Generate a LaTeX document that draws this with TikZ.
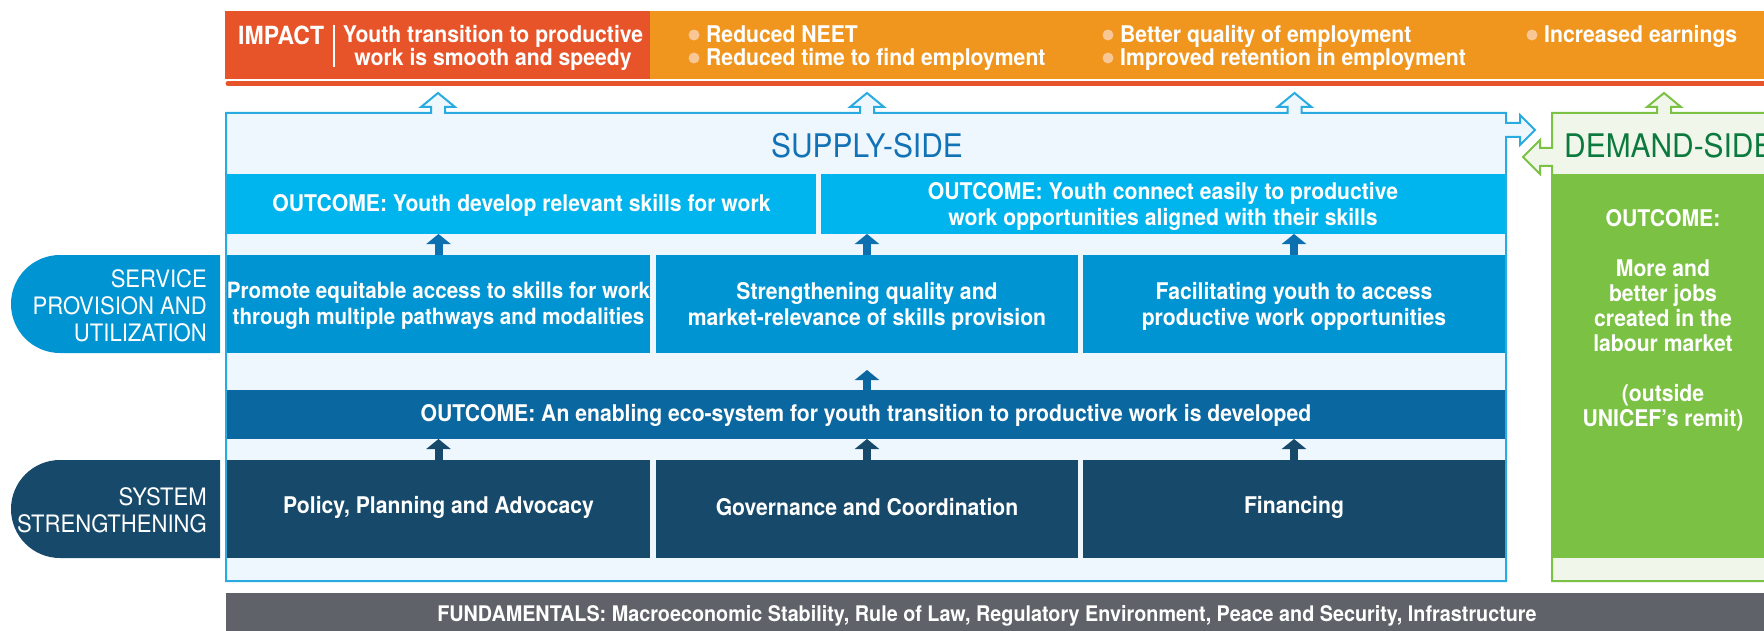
\documentclass[tikz,border=0pt]{standalone}
\usepackage{fontspec}
\setmainfont{TeX Gyre Heros}[FakeStretch=0.92]
\usetikzlibrary{arrows.meta,fit,shapes.misc}
\definecolor{impred}{HTML}{E8542A}
\definecolor{imporange}{HTML}{F0961F}
\definecolor{bulletc}{HTML}{F9C796}
\definecolor{supline}{HTML}{29ABE2}
\definecolor{supfill}{HTML}{EEF7FD}
\definecolor{suptext}{HTML}{1272B6}
\definecolor{outcyan}{HTML}{00B5EE}
\definecolor{servblue}{HTML}{0094D3}
\definecolor{arrblue}{HTML}{0C6FAF}
\definecolor{ecoblue}{HTML}{0B679F}
\definecolor{sysnavy}{HTML}{16496A}
\definecolor{demgreen}{HTML}{7BC143}
\definecolor{demfill}{HTML}{F0F6E9}
\definecolor{demtext}{HTML}{0C7A3E}
\definecolor{fundgray}{HTML}{5F6369}
\begin{document}
\begin{tikzpicture}[x=1pt,y=-1pt,
  area/.style={inner sep=0pt, outer sep=0pt},
  bx/.style={inner sep=0pt, outer sep=0pt, text=white, align=center, font=\bfseries\fontsize{23}{26}\selectfont},
  btxt/.style={inner sep=0pt, text=white, font=\bfseries\fontsize{23}{26}\selectfont},
  labtxt/.style={inner sep=0pt, text=white, align=right, font=\fontsize{24}{27}\selectfont},
  pill/.style={rounded rectangle, rounded rectangle right arc=none, minimum width=209pt, minimum height=98pt, inner sep=0pt},
  dot/.style={circle, fill=bulletc, minimum size=11pt, inner sep=0pt},
  uparr/.style={line width=8pt, -{Triangle[width=24pt,length=10pt]}},
  sidetitle/.style={inner sep=0pt, font=\fontsize{32.5}{36}\selectfont}
]
\useasboundingbox (0,0) rectangle (1764,631);
\clip (0,0) rectangle (1764,631);

% ---------- impact bar ----------
\node[area, fit={(225,11)(650,79)}, fill=impred] (impact) {};
\node[area, fit={(650,11)(1780,79)}, fill=imporange] (results) {};
\draw[impred, line width=5pt, line cap=round] (228,83.5) -- (1780,83.5);
\node[btxt, anchor=base west, font=\bfseries\fontsize{25}{26}\selectfont] (implabel) at (238,45) {IMPACT};
\draw[white, line width=1.2pt] (334,25) -- (334,67);
\node[bx, font=\bfseries\fontsize{23}{23}\selectfont] (impstmt) at (493,47.5) {Youth transition to productive\\work is smooth and speedy};
\foreach \bx/\by/\bt [count=\i] in {694/34/Reduced NEET, 694/57/Reduced time to find employment, 1108/34/Better quality of employment, 1108/57/Improved retention in employment, 1532/34/Increased earnings} {
  \node[dot] (dot\i) at (\bx,\by+1) {};
  \node[btxt, anchor=base west] (item\i) at (\bx+12,\by+9) {\bt};
}

% ---------- supply-side frame ----------
\draw[supline, line width=2pt, fill=supfill] (226,113)
  \foreach \ax in {438,867,1294.5} { -- (\ax-7,113) -- (\ax-7,107) -- (\ax-17,107) -- (\ax,93) -- (\ax+17,107) -- (\ax+7,107) -- (\ax+7,113) }
  -- (1506,113) -- (1506,123) -- (1520,123) -- (1520,115) -- (1535,130) -- (1520,145) -- (1520,137) -- (1506,137) -- (1506,581) -- (226,581) -- cycle;

% ---------- demand-side frame ----------
\draw[demgreen, line width=2pt, fill=demfill] (1790,113) -- (1671,113) -- (1671,107) -- (1681,107) -- (1664,93) -- (1647,107) -- (1657,107) -- (1657,113)
  -- (1552,113) -- (1552,148) -- (1540,148) -- (1540,140) -- (1523,157) -- (1540,174) -- (1540,166) -- (1552,166) -- (1552,581) -- (1790,581);

\node[sidetitle, text=suptext] (suptitle) at (867,146) {SUPPLY-SIDE};
\node[sidetitle, text=demtext, anchor=west] (demtitle) at (1564,146) {DEMAND-SIDE};

% ---------- rows ----------
\node[area, fill=outcyan, fit={(227,174)(816,234)}] (o1) {};
\node[area, fill=outcyan, fit={(821,174)(1505,234)}] (o2) {};
\node[bx] (o1t) at ([yshift=-1pt]o1.center) {OUTCOME: Youth develop relevant skills for work};
\node[bx] (o2t) at ([yshift=-2pt]o2.center) {OUTCOME: Youth connect easily to productive\\work opportunities aligned with their skills};

\node[area, fill=servblue, fit={(227,255)(650,353)}] (p1) {};
\node[area, fill=servblue, fit={(656,255)(1078,353)}] (p2) {};
\node[area, fill=servblue, fit={(1083,255)(1505,353)}] (p3) {};
\node[bx, font=\bfseries\fontsize{22.4}{26}\selectfont] (p1t) at ([yshift=-2pt]p1.center) {Promote equitable access to skills for work\\through multiple pathways and modalities};
\node[bx] (p2t) at ([yshift=-2pt]p2.center) {Strengthening quality and\\market-relevance of skills provision};
\node[bx] (p3t) at ([yshift=-2pt]p3.center) {Facilitating youth to access\\productive work opportunities};

\node[area, fill=ecoblue, fit={(227,390)(1505,439)}] (eco) {};
\node[bx] (ecot) at ([yshift=-1pt]eco.center) {OUTCOME: An enabling eco-system for youth transition to productive work is developed};

\node[area, fill=sysnavy, fit={(227,460)(650,558)}] (s1) {};
\node[area, fill=sysnavy, fit={(656,460)(1078,558)}] (s2) {};
\node[area, fill=sysnavy, fit={(1083,460)(1505,558)}] (s3) {};
\node[bx] (s1t) at ([yshift=2pt]s1.center) {Policy, Planning and Advocacy};
\node[bx] (s2t) at ([yshift=2pt]s2.center) {Governance and Coordination};
\node[bx] (s3t) at ([yshift=2pt]s3.center) {Financing};

% ---------- arrows ----------
\draw[uparr, arrblue] (p1.north) -- (p1.north |- o1.south);
\draw[uparr, arrblue] (p2.north) -- (p2.north |- o2.south);
\draw[uparr, arrblue] (p3.north) -- (p3.north |- o2.south);
\path (eco.north -| p2.north) ++(0,-20) coordinate (ecotip);
\draw[uparr, ecoblue] (eco.north -| p2.north) -- (ecotip);
\draw[uparr, sysnavy] (s1.north) -- (s1.north |- eco.south);
\draw[uparr, sysnavy] (s2.north) -- (s2.north |- eco.south);
\draw[uparr, sysnavy] (s3.north) -- (s3.north |- eco.south);

% ---------- demand outcome ----------
\node[area, fit={(1553,174)(1790,558)}, fill=demgreen] (demout) {};
\node[bx, font=\bfseries\fontsize{23}{25}\selectfont] (demtxt) at (1663,320) {OUTCOME:\\[25pt]More and\\better jobs\\created in the\\labour market\\[25pt](outside\\UNICEF’s remit)};

% ---------- side labels ----------
\node[pill, fill=servblue] (lab1) at (115.5,304) {};
\node[labtxt, anchor=east] (lab1t) at (207,305.5) {SERVICE\\PROVISION AND\\UTILIZATION};
\node[pill, fill=sysnavy] (lab2) at (115.5,509) {};
\node[labtxt, anchor=east] (lab2t) at (207,510.5) {SYSTEM\\STRENGTHENING};

% ---------- fundamentals ----------
\node[area, fit={(226,593)(1790,640)}, fill=fundgray] (fund) {};
\node[btxt, font=\bfseries\fontsize{21.5}{24}\selectfont] (fundtxt) at (987,616) {FUNDAMENTALS: Macroeconomic Stability, Rule of Law, Regulatory Environment, Peace and Security, Infrastructure};
\end{tikzpicture}
\end{document}
